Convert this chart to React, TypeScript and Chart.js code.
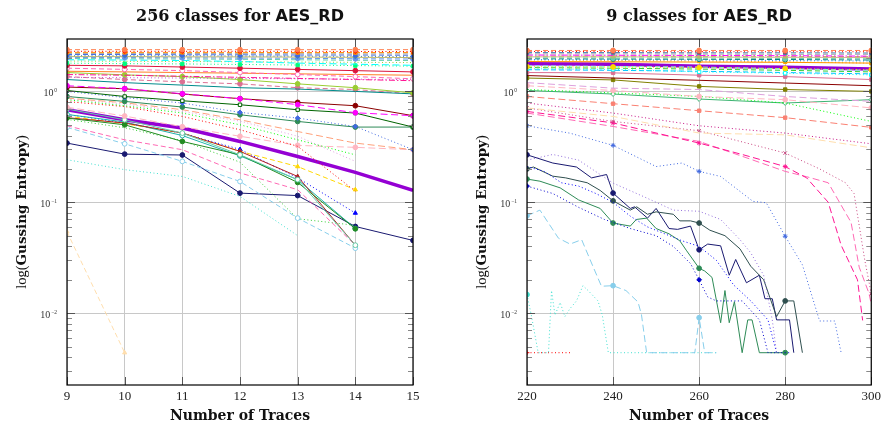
import React, { useEffect, useRef } from "react";
import { Chart, registerables } from "chart.js";
Chart.register(...registerables);

// ---------------- axes ----------------
const LEFT_X = [9, 10, 11, 12, 13, 14, 15];
const RIGHT_X = [220, 240, 260, 280, 300];
const Y_MAJOR = [0.01, 0.1, 1];
const Y_MIN = 0.00225;
const Y_MAX = 2.97;

// ---------------- left chart (256 classes) ----------------
const leftUpper = [
  [2.38, 2.38, 2.38, 2.38, 2.38, 2.38, 2.38],
  [2.3, 2.3, 2.3, 2.3, 2.3, 2.29, 2.29],
  [2.25, 2.25, 2.25, 2.25, 2.24, 2.24, 2.24],
  [2.2, 2.2, 2.2, 2.19, 2.19, 2.18, 2.18],
  [2.15, 2.15, 2.14, 2.14, 2.13, 2.13, 2.12],
  [2.1, 2.1, 2.1, 2.09, 2.08, 2.07, 2.06],
  [2.06, 2.06, 2.05, 2.05, 2.04, 2.03, 2.02],
  [2.02, 2.02, 2.01, 2.0, 1.99, 1.97, 1.96],
  [1.98, 1.97, 1.96, 1.95, 1.93, 1.91, 1.9],
  [1.93, 1.92, 1.9, 1.86, 1.8, 1.76, 1.72],
  [1.88, 1.87, 1.86, 1.85, 1.84, 1.83, 1.82],
  [1.8, 1.78, 1.77, 1.75, 1.73, 1.71, 1.69],
  [1.72, 1.7, 1.66, 1.62, 1.58, 1.54, 1.5],
  [1.62, 1.58, 1.54, 1.48, 1.42, 1.36, 1.3],
  [1.52, 1.5, 1.48, 1.46, 1.44, 1.42, 1.4],
  [1.42, 1.4, 1.37, 1.34, 1.31, 1.28, 1.25],
  [1.34, 1.33, 1.32, 1.31, 1.3, 1.29, 1.28],
  [1.48, 1.41, 1.36, 1.28, 1.17, 1.08, 0.97],
  [1.28, 1.2, 1.14, 1.08, 1.05, 1.0, 0.95],
  [1.36, 1.28, 1.22, 1.17, 1.08, 1.04, 0.95],
];
const leftMiddle = [
  [1.125, 1.06, 0.953, 0.86, 0.76, 0.642, 0.604],
  [1.095, 1.057, 0.947, 0.86, 0.796, 0.743, 0.604],
  [1.02, 0.9, 0.824, 0.758, 0.684, 0.638, 0.477],
  [1.0, 0.88, 0.786, 0.647, 0.575, 0.483, 0.298],
  [0.9, 0.813, 0.723, 0.616, 0.536, 0.477, 0.477],
  [0.842, 0.743, 0.638, 0.5, 0.366, 0.268, null],
  [0.81, 0.73, 0.595, 0.451, 0.32, 0.126, null],
  [0.87, 0.79, 0.684, 0.555, 0.435, 0.342, 0.298],
  [0.86, 0.77, 0.66, 0.54, 0.394, 0.234, null],
  [0.72, 0.6, 0.48, 0.394, 0.326, 0.313, 0.298],
];
const leftBold = [0.684, 0.555, 0.467, 0.354, 0.259, 0.186, 0.128];
const leftLower = [
  [0.694, 0.555, 0.421, 0.268, 0.16, 0.041, null],
  [0.575, 0.5, 0.354, 0.268, 0.151, 0.0577, null],
  [0.58, 0.519, 0.421, 0.288, 0.171, 0.041, null],
  [0.62, 0.53, 0.4, 0.262, 0.16, 0.058, null],
  [0.6, 0.511, 0.421, 0.288, 0.21, 0.13, null],
  [0.49, 0.366, 0.298, 0.184, 0.13, 0.041, null],
  [0.474, 0.337, 0.234, 0.154, 0.072, 0.0386, null],
  [0.242, 0.197, 0.171, 0.113, 0.05, null, null],
  [0.56, 0.47, 0.36, 0.23, 0.071, 0.062, null],
  [0.62, 0.52, 0.42, 0.3, 0.166, 0.08, null],
  [0.342, 0.272, 0.267, 0.121, 0.115, 0.0605, 0.0453],
  [0.0542, 0.0044, null, null, null, null, null],
];

// ---------------- right chart (9 classes) ----------------
const rightUpper = [
  [2.34, 2.34, 2.34, 2.34, 2.34],
  [2.29, 2.29, 2.28, 2.28, 2.28],
  [2.24, 2.24, 2.23, 2.23, 2.22],
  [2.18, 2.18, 2.17, 2.16, 2.16],
  [2.13, 2.12, 2.11, 2.1, 2.08],
  [2.08, 2.08, 2.07, 2.07, 2.06],
  [2.05, 2.05, 2.04, 2.03, 2.02],
  [2.01, 2.0, 2.0, 1.98, 1.97],
  [1.97, 1.96, 1.95, 1.94, 1.92],
  [1.94, 1.93, 1.92, 1.9, 1.88],
  [1.92, 1.9, 1.88, 1.85, 1.8],
  [1.86, 1.85, 1.84, 1.83, 1.8],
  [1.67, 1.66, 1.64, 1.61, 1.57],
  [1.64, 1.62, 1.59, 1.55, 1.5],
  [1.6, 1.58, 1.5, 1.46, 1.41],
  [1.57, 1.55, 1.52, 1.48, 1.44],
  [1.7, 1.68, 1.66, 1.6, 1.55],
  [1.48, 1.47, 1.4, 1.36, 1.28],
  [1.39, 1.32, 1.26, 1.19, 1.125],
  [1.32, 1.27, 1.11, 1.04, 1.0],
  [1.2, 1.07, 1.04, 0.9, 0.813],
  [1.125, 1.02, 0.9, 0.842, 0.71],
  [1.04, 0.97, 0.9, 0.786, 0.536],
  [1.02, 0.947, 0.854, 0.786, 0.842],
  [0.9, 0.775, 0.67, 0.58, 0.474],
  [0.786, 0.638, 0.49, 0.421, 0.337],
  [0.71, 0.595, 0.421, 0.406, 0.31],
];
const rightBold = [1.78, 1.76, 1.69, 1.65, 1.59];

const rPinkDot = [[220, 0.71], [240, 0.536], [260, 0.442], [280, 0.278], [288, 0.2], [294, 0.15], [296, 0.12], [298.5, 0.03], [300, 0.015]];
const rPinkDashA = [[220, 0.66], [240, 0.52], [260, 0.342], [270, 0.27], [280, 0.21], [285, 0.166], [290, 0.1], [293, 0.041], [296.8, 0.02], [298, 0.0086]];
const rPinkDashB = [[220, 0.638], [240, 0.483], [260, 0.354], [270, 0.26], [280, 0.19], [285, 0.17], [290, 0.15], [295.3, 0.066], [297.2, 0.026], [299.5, 0.015], [300, 0.012]];
const rRoyalDot = [[220, 0.49], [230, 0.42], [240, 0.326], [247, 0.24], [250, 0.21], [256, 0.226], [260, 0.19], [265, 0.171], [272.5, 0.102], [275.6, 0.099], [280, 0.0494], [284, 0.0273], [288, 0.0085], [291.5, 0.0085], [293, 0.0044]];
const rNavy = [[220, 0.268], [226, 0.226], [231.5, 0.208], [235, 0.166], [238.5, 0.178], [240, 0.121], [244, 0.088], [245, 0.091], [248, 0.072], [250, 0.088], [253, 0.058], [255, 0.057], [258, 0.061], [260, 0.0373], [262, 0.042], [265, 0.0405], [267, 0.022], [268.5, 0.0305], [271, 0.0188], [274, 0.022], [275.3, 0.0135], [277, 0.0135], [278, 0.0087], [281, 0.0087], [282, 0.0044]];
const rSlate = [[220, 0.2], [221.5, 0.208], [226, 0.172], [229, 0.166], [234, 0.15], [237, 0.128], [240, 0.103], [244, 0.085], [245.5, 0.091], [248, 0.078], [250, 0.082], [254, 0.078], [255.5, 0.068], [258, 0.068], [260, 0.065], [262.5, 0.056], [266, 0.05], [269.5, 0.038], [272, 0.0265], [274, 0.022], [275, 0.02], [278, 0.0093], [280, 0.0129], [282, 0.0129], [284, 0.0044]];
const rSea = [[220, 0.162], [223, 0.155], [227.7, 0.135], [232, 0.105], [237, 0.088], [240, 0.065], [244, 0.061], [245.4, 0.07], [247.8, 0.072], [250, 0.058], [253, 0.052], [255.5, 0.045], [257, 0.037], [260, 0.0254], [261.3, 0.024], [263, 0.021], [265, 0.0082], [266, 0.016], [267, 0.0082], [268.2, 0.0127], [270, 0.0044], [271.3, 0.0087], [272.3, 0.0087], [274, 0.0044], [280, 0.0044]];
const rPurpleDot = [[220, 0.24], [226, 0.27], [232, 0.24], [240, 0.149], [247, 0.113], [254, 0.085], [260, 0.083], [265, 0.07], [269.5, 0.046], [272, 0.035], [275, 0.022], [277, 0.0087], [278, 0.0044]];
const rBlueDotA = [[220, 0.21], [224, 0.19], [228, 0.15], [232, 0.14], [236, 0.12], [240, 0.1], [244, 0.075], [248, 0.06], [252, 0.052], [256, 0.045], [260, 0.04], [264, 0.03], [268, 0.018], [272, 0.0129], [276, 0.0087], [278, 0.0044]];
const rBlueDotB = [[220, 0.14], [226, 0.12], [232, 0.09], [238, 0.07], [244, 0.058], [250, 0.05], [254, 0.04], [258, 0.028], [260, 0.02], [262, 0.014], [264, 0.0129], [270, 0.0129], [274, 0.0087], [276, 0.0044], [281, 0.0044]];
const rSkyDash = [[220, 0.0755], [223, 0.085], [227.3, 0.0475], [230, 0.042], [232.7, 0.046], [235.4, 0.026], [237.3, 0.0175], [240, 0.0177], [243, 0.016], [245.8, 0.0126], [246.6, 0.0097], [247.8, 0.0044], [259, 0.0044], [260, 0.0091], [261.3, 0.0044], [264, 0.0044]];
const rCyanDot = [[220, 0.0147], [221, 0.0096], [222.6, 0.0044], [225, 0.0044], [225.7, 0.016], [226.5, 0.0096], [227.7, 0.0125], [228.8, 0.0093], [230, 0.011], [231.5, 0.0129], [233, 0.0177], [234.2, 0.016], [236.5, 0.0129], [237.5, 0.0096], [238.9, 0.0044], [264, 0.0044]];
const rRedDot = [[220, 0.0044], [230, 0.0044]];

// ---------------- styles: [color, dash, marker, open, width] ----------------
const DASHES = { s: [], d: [5, 3], ld: [7, 3.5], o: [1, 2.5], dd: [6, 2, 1.5, 2] };

const leftUpperStyle = [
  ["#ff7f50", "d", "circle"], ["#ff0000", "o", "star"], ["#ff8c00", "d", "rect"], ["#a9a9a9", "d", null],
  ["#4169e1", "d", "rect"], ["#4682b4", "o", "rectRot"], ["#bdb76b", "s", null], ["#6495ed", "d", "circle"],
  ["#66cdaa", "d", null], ["#00ffff", "ld", null], ["#9acd32", "o", null], ["#00ff7f", "o", "rect"],
  ["#dc143c", "s", "circle"], ["#ff69b4", "d", "circle", true], ["#ff7f24", "s", null], ["#ff1493", "dd", null],
  ["#ba55d3", "o", null], ["#9acd32", "s", "circle"], ["#008b8b", "s", null], ["#db7093", "d", "circle"],
];
const leftMiddleStyle = [
  ["#ff00ff", "ld", "circle"], ["#8b0000", "s", "circle"], ["#006400", "s", "rect", true], ["#4169e1", "o", "rectRot"],
  ["#2e8b57", "s", "circle"], ["#00ff00", "o", null], ["#ff0000", "o", null], ["#ffa07a", "ld", null],
  ["#dda0dd", "o", null], ["#ffb6c1", "ld", "circle"],
];
const boldStyle = ["#9400d3", "s", null, false, 3.5];
const leftLowerStyle = [
  ["#66cdaa", "s", "circle", true], ["#228b22", "s", "circle"], ["#b22222", "s", "triangle"], ["#20b2aa", "s", "circle", true],
  ["#ffd700", "d", "triangle"], ["#ff69b4", "d", null], ["#87ceeb", "d", "circle", true], ["#40e0d0", "o", null],
  ["#32cd32", "o", null], ["#0000ff", "o", "triangle"], ["#191970", "s", "circle"], ["#ffdead", "d", "triangle"],
];
const rightUpperStyle = [
  ["#ff7f50", "d", "circle"], ["#ff0000", "o", "star"], ["#4682b4", "d", "rect"], ["#a9a9a9", "d", null],
  ["#ff00ff", "dd", null], ["#bdb76b", "d", "rect"], ["#d2b48c", "s", null], ["#66cdaa", "d", "circle"],
  ["#008080", "d", "circle", true], ["#1e90ff", "o", null], ["#ffa500", "o", "rect"], ["#ff8c00", "s", null],
  ["#ffd700", "o", "circle"], ["#32cd32", "d", null], ["#00ffff", "o", "rect", true], ["#00bfff", "d", null],
  ["#7fffd4", "d", null], ["#db7093", "s", "rect"], ["#8b0000", "s", null], ["#808000", "s", "rect"],
  ["#dda0dd", "ld", null], ["#ffb6c1", "ld", "circle"], ["#00ff00", "o", null], ["#3cb371", "s", "rectRot", true],
  ["#fa8072", "ld", "rect"], ["#c71585", "o", null], ["#ffdead", "ld", null],
];

function makeDataset(points, st, every) {
  const [color, dash, marker, open, width] = st;
  const r = 2.4;
  return {
    data: points,
    borderColor: color,
    backgroundColor: open ? "#ffffff" : color,
    borderWidth: width || 1,
    borderDash: DASHES[dash],
    pointStyle: marker || "circle",
    pointRadius: marker ? (every ? (c) => (c.raw && c.raw.x % every === 0 ? r : 0) : r) : 0,
    pointHoverRadius: 0,
    pointBorderColor: color,
    pointBackgroundColor: open ? "#ffffff" : color,
    pointBorderWidth: 1,
    tension: 0,
    fill: false,
  };
}

const fromRow = (xs, row) => row.map((v, i) => (v == null ? null : { x: xs[i], y: v })).filter((p) => p);
const fromPairs = (pairs) => pairs.map(([x, y]) => ({ x, y }));

function leftDatasets() {
  const ds = [];
  leftUpper.forEach((row, i) => ds.push(makeDataset(fromRow(LEFT_X, row), leftUpperStyle[i], null)));
  leftMiddle.forEach((row, i) => ds.push(makeDataset(fromRow(LEFT_X, row), leftMiddleStyle[i], null)));
  leftLower.forEach((row, i) => ds.push(makeDataset(fromRow(LEFT_X, row), leftLowerStyle[i], null)));
  ds.push(makeDataset(fromRow(LEFT_X, leftBold), boldStyle, null));
  return ds;
}

function rightDatasets() {
  const ds = [];
  rightUpper.forEach((row, i) => ds.push(makeDataset(fromRow(RIGHT_X, row), rightUpperStyle[i], 20)));
  ds.push(makeDataset(fromRow(RIGHT_X, rightBold), boldStyle, 20));
  const lower = [
    [rPinkDot, ["#c8457f", "o", "crossRot"]],
    [rPinkDashA, ["#ff1493", "ld", "star"]],
    [rPinkDashB, ["#ff69b4", "ld", null]],
    [rRoyalDot, ["#4169e1", "o", "star"]],
    [rPurpleDot, ["#9370db", "o", null]],
    [rBlueDotA, ["#0000ff", "o", null]],
    [rBlueDotB, ["#0000cd", "o", "rectRot"]],
    [rSkyDash, ["#87ceeb", "ld", "circle"]],
    [rCyanDot, ["#40e0d0", "o", "circle"]],
    [rRedDot, ["#ff0000", "o", "cross"]],
    [rSea, ["#2e8b57", "s", "circle"]],
    [rSlate, ["#2f4f4f", "s", "circle"]],
    [rNavy, ["#191970", "s", "circle"]],
  ];
  lower.forEach(([pairs, st]) => ds.push(makeDataset(fromPairs(pairs), st, 20)));
  return ds;
}

function decorPlugin(titleMain) {
  return {
    id: "decor",
    afterDatasetsDraw(chart) {
      const { ctx, chartArea: a } = chart;
      const ys = chart.scales.y;
      const xs = chart.scales.x;
      ctx.save();
      ctx.lineWidth = 1;
      const seg = (x1, y1, x2, y2, col) => {
        ctx.strokeStyle = col;
        ctx.beginPath();
        ctx.moveTo(x1, y1);
        ctx.lineTo(x2, y2);
        ctx.stroke();
      };
      for (let e = -3; e <= 0; e++) {
        for (let k = 1; k <= 9; k++) {
          const v = k * Math.pow(10, e);
          if (v < Y_MIN || v > Y_MAX) continue;
          const p = Math.round(ys.getPixelForValue(v)) + 0.5;
          const len = k === 1 ? 8 : 5;
          const col = k === 1 ? "#555" : "#888";
          seg(a.left, p, a.left + len, p, col);
          seg(a.right - len, p, a.right, p, col);
        }
      }
      for (const t of xs.ticks) {
        const p = Math.round(xs.getPixelForValue(t.value)) + 0.5;
        seg(p, a.bottom, p, a.bottom - 8, "#555");
        seg(p, a.top, p, a.top + 8, "#555");
      }
      ctx.strokeStyle = "#000";
      ctx.lineWidth = 1.2;
      ctx.strokeRect(a.left, a.top, a.right - a.left, a.bottom - a.top);
      ctx.restore();
    },
    afterDraw(chart) {
      const { ctx, chartArea: a } = chart;
      const ys = chart.scales.y;
      ctx.save();
      // title
      ctx.fillStyle = "#111";
      ctx.textBaseline = "alphabetic";
      ctx.textAlign = "left";
      const f1 = 'bold 16px "DejaVu Serif"';
      const f2 = 'bold 16px "DejaVu Sans"';
      ctx.font = f1;
      const w1 = ctx.measureText(titleMain).width;
      ctx.font = f2;
      const w2 = ctx.measureText("AES_RD").width;
      const tx = (a.left + a.right) / 2 - (w1 + w2) / 2;
      ctx.font = f1;
      ctx.fillText(titleMain, tx, 21);
      ctx.font = f2;
      ctx.fillText("AES_RD", tx + w1, 21);

      // y tick labels
      const labels = [[1, "0"], [0.1, "\u22121"], [0.01, "\u22122"]];
      ctx.fillStyle = "#333";
      for (const [v, sup] of labels) {
        const p = ys.getPixelForValue(v);
        ctx.font = '5.5px "Liberation Serif"';
        const sw = ctx.measureText(sup).width;
        ctx.font = '10px "Liberation Serif"';
        const bw = ctx.measureText("10").width;
        const R = a.left - 10;
        ctx.fillText("10", R - sw - 0.8 - bw, p + 4.8);
        ctx.font = '5.5px "Liberation Serif"';
        ctx.fillText(sup, R - sw, p + 1);
      }

      // y label
      ctx.fillStyle = "#111";
      ctx.translate(a.left - 41, (a.top + a.bottom) / 2);
      ctx.rotate(-Math.PI / 2);
      const parts = [
        ["log(", '14.5px "Liberation Serif"'],
        ["Gussing Entropy", 'bold 13.5px "DejaVu Serif"'],
        [")", '14.5px "Liberation Serif"'],
      ];
      let total = 0;
      const widths = parts.map(([t, f]) => {
        ctx.font = f;
        const w = ctx.measureText(t).width;
        total += w;
        return w;
      });
      let cx = -total / 2;
      parts.forEach(([t, f], i) => {
        ctx.font = f;
        ctx.fillText(t, cx, 0);
        cx += widths[i];
      });
      ctx.restore();
    },
  };
}

function buildConfig(datasets, xMin, xMax, step, yWidth, padRight, titleMain) {
  return {
    type: "line",
    data: { datasets },
    options: {
      animation: false,
      responsive: false,
      devicePixelRatio: 1,
      events: [],
      layout: { padding: { left: 0, right: padRight, top: 39, bottom: 0 } },
      plugins: { legend: { display: false }, tooltip: { enabled: false }, title: { display: false } },
      scales: {
        x: {
          type: "linear",
          min: xMin,
          max: xMax,
          ticks: {
            stepSize: step,
            padding: 4,
            color: "#222",
            autoSkip: false,
            maxRotation: 0,
            font: { family: "Liberation Serif", size: 13 },
          },
          grid: { color: "#c8c8c8", lineWidth: 1, drawTicks: false },
          border: { display: false },
          title: {
            display: true,
            text: "Number of Traces",
            color: "#111",
            font: { family: "DejaVu Serif", weight: "bold", size: 14 },
            padding: { top: 0, bottom: 6 },
          },
          afterFit: (s) => {
            s.height = 46;
          },
        },
        y: {
          type: "logarithmic",
          min: Y_MIN,
          max: Y_MAX,
          afterBuildTicks: (s) => {
            s.ticks = Y_MAJOR.map((v) => ({ value: v, major: true }));
          },
          ticks: { display: false },
          grid: { color: "#c8c8c8", lineWidth: 1, drawTicks: false },
          border: { display: false },
          afterFit: (s) => {
            s.width = yWidth;
          },
        },
      },
    },
    plugins: [decorPlugin(titleMain)],
  };
}

export default function App() {
  const leftRef = useRef(null);
  const rightRef = useRef(null);
  useEffect(() => {
    const c1 = new Chart(leftRef.current, buildConfig(leftDatasets(), 9, 15, 1, 67, 29, "256 classes for ") as any);
    const c2 = new Chart(rightRef.current, buildConfig(rightDatasets(), 220, 300, 20, 85, 13, "9 classes for ") as any);
    return () => {
      c1.destroy();
      c2.destroy();
    };
  }, []);
  return (
    <div style={{ position: "absolute", left: 0, top: 0, width: 885, height: 431, background: "#fff" }}>
      <canvas ref={leftRef} width={442} height={431} style={{ position: "absolute", left: 0, top: 0, width: 442, height: 431 }} />
      <canvas ref={rightRef} width={443} height={431} style={{ position: "absolute", left: 442, top: 0, width: 443, height: 431 }} />
    </div>
  );
}
